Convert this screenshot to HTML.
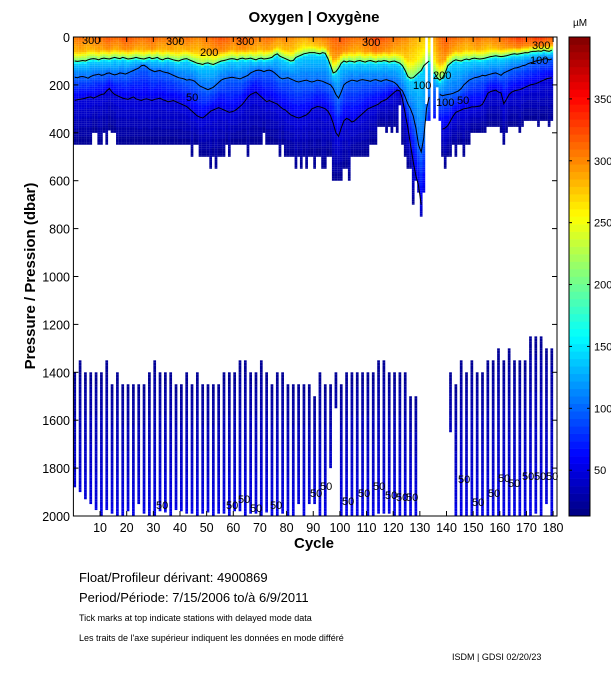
<!DOCTYPE html>
<html><head><meta charset="utf-8"><style>
html,body{margin:0;padding:0;background:#fff;width:611px;height:675px;overflow:hidden}
svg{display:block;font-family:"Liberation Sans",Arial,sans-serif}
</style></head><body>
<svg id="chart" width="611" height="675" viewBox="0 0 611 675" xmlns="http://www.w3.org/2000/svg">
<rect x="0" y="0" width="611" height="675" fill="#fff"/>
<text x="314" y="22" text-anchor="middle" font-size="15" font-weight="bold">Oxygen | Oxygène</text>
<g id="heat"></g>
<g id="deep"></g>
<g id="contours"></g>
<g id="labels" font-size="11" fill="#000">
<text x="82" y="44">300</text>
<text x="166" y="45">300</text>
<text x="236" y="45">300</text>
<text x="200" y="56">200</text>
<text x="186" y="101">50</text>
<text x="362" y="46">300</text>
<text x="413" y="89">100</text>
<text x="433" y="79">200</text>
<text x="436" y="106">100</text>
<text x="457" y="104">50</text>
<text x="532" y="49">300</text>
<text x="530" y="64">100</text>
<text x="156" y="509">50</text>
<text x="226" y="509">50</text>
<text x="238" y="503">50</text>
<text x="250" y="512">50</text>
<text x="270" y="509">50</text>
<text x="310" y="497">50</text>
<text x="320" y="490">50</text>
<text x="342" y="505">50</text>
<text x="358" y="497">50</text>
<text x="373" y="490">50</text>
<text x="385" y="499">50</text>
<text x="396" y="501">50</text>
<text x="406" y="501">50</text>
<text x="458" y="483">50</text>
<text x="472" y="506">50</text>
<text x="488" y="497">50</text>
<text x="498" y="482">50</text>
<text x="508" y="487">50</text>
<text x="522" y="480">50</text>
<text x="534" y="480">50</text>
<text x="546" y="480">50</text>
</g>
<rect x="73.4" y="37" width="483.6" height="479" fill="none" stroke="#000" stroke-width="1"/>
<g id="axes" font-size="12.5"></g>
<text transform="translate(35,276) rotate(-90)" text-anchor="middle" font-size="15" font-weight="bold">Pressure / Pression (dbar)</text>
<text x="314" y="548" text-anchor="middle" font-size="15" font-weight="bold">Cycle</text>
<g id="cbar"></g>
<text x="580" y="26" text-anchor="middle" font-size="10">µM</text>
<text x="79" y="582" font-size="13">Float/Profileur dérivant:  4900869</text>
<text x="79" y="602" font-size="13">Period/Période:  7/15/2006  to/à  6/9/2011</text>
<text x="79" y="621" font-size="9">Tick marks at top indicate stations with delayed mode data</text>
<text x="79" y="641" font-size="9">Les traits de l'axe supérieur indiquent les données en mode différé</text>
<text x="452" y="660" font-size="9">ISDM | GDSI  02/20/23</text>
</svg>
<script>
// ---- data (cycle 1..180) ----
const shallowBottom = [
450,450,450,450,450,450,450,400,400,450,
450,400,450,390,400,400,450,450,450,450,
450,450,450,450,450,450,450,450,450,450,
450,450,450,450,450,450,450,450,450,450,
450,450,450,450,500,450,450,500,500,500,
500,550,500,550,500,500,500,450,500,450,
450,450,450,450,450,500,450,450,450,450,
450,400,450,450,450,450,450,500,450,500,
500,500,500,550,500,550,500,550,500,500,
550,500,500,550,550,500,500,600,600,600,
600,550,550,600,500,500,500,500,500,500,
500,450,450,450,375,375,375,400,375,400,
375,400,285,450,500,550,550,700,600,650,
750,650,350,350,0,340,210,350,500,550,
500,500,450,500,450,450,500,450,450,400,
400,400,400,400,400,375,375,375,375,375,
400,450,400,375,375,375,375,400,375,350,
350,350,350,350,375,350,350,350,375,350];
const topGapCycles = [133];
const topGapDepth = [280];
const surfaceO2 = [
315,318,320,318,315,312,315,318,320,322,
320,325,328,330,325,322,320,325,330,332,
330,328,325,322,320,318,320,322,325,328,
325,320,318,315,318,320,322,318,315,312,
315,318,320,318,315,312,310,312,315,318,
320,322,325,328,330,332,330,328,325,322,
320,325,328,330,328,325,322,320,318,315,
318,320,322,320,318,315,312,310,312,315,
312,310,308,305,302,300,298,300,302,305,
308,310,312,315,318,320,322,325,328,330,
332,330,328,325,322,320,318,320,322,325,
328,330,335,338,335,332,330,328,325,322,
320,318,315,312,310,305,300,298,295,292,
290,288,285,280,0,300,310,320,325,330,
328,325,322,320,318,315,312,310,312,315,
318,320,318,315,312,310,312,315,318,320,
322,325,328,330,332,335,338,340,338,335,
332,335,338,340,342,340,338,335,332,330];
const depth200 = [
100,102,100,98,100,95,92,90,92,95,
90,88,90,92,88,85,88,90,85,88,
92,90,88,85,88,90,92,88,85,90,
88,85,92,95,90,88,92,95,98,100,
95,92,90,95,100,105,110,112,115,110,
108,112,115,110,105,100,98,95,92,90,
92,95,90,88,92,90,88,92,95,90,
88,92,90,88,85,75,70,80,85,90,
95,100,98,85,80,75,70,68,65,65,
65,68,70,65,68,90,120,150,145,130,
110,100,105,100,102,105,100,98,102,105,
100,98,102,105,100,102,98,100,105,102,
100,105,110,120,140,165,172,170,160,150,
140,120,110,100,0,150,170,180,170,150,
120,110,100,95,98,100,95,92,95,90,
88,90,92,90,88,85,82,80,78,80,
82,80,78,75,72,70,72,70,68,65,
66,62,60,60,58,60,55,58,60,55];
const depth100 = [
168,170,166,165,168,172,165,160,158,155,
160,158,152,150,155,158,155,150,152,155,
150,145,140,135,130,120,118,125,135,140,
145,142,140,145,148,150,155,160,165,170,
172,175,180,178,180,185,195,205,210,215,
220,215,210,200,190,180,175,172,170,168,
170,172,175,170,165,160,150,145,140,138,
140,145,140,138,142,150,160,170,175,172,
170,175,180,185,188,185,182,180,185,188,
185,180,182,185,190,195,200,215,240,255,
230,200,190,185,180,182,185,180,178,180,
182,185,180,178,182,185,180,178,182,185,
190,200,215,225,250,280,300,330,380,450,
480,420,300,250,0,220,230,240,245,242,
240,238,235,230,225,215,200,190,180,175,
170,168,165,160,162,158,155,152,150,155,
160,150,145,140,135,130,128,125,120,118,
112,108,105,100,98,95,92,90,95,92];
const depth50 = [
265,262,260,258,255,252,250,255,250,245,
240,238,225,215,230,240,245,250,255,258,
260,255,250,258,262,265,260,258,262,265,
260,258,255,262,265,270,268,265,270,275,
280,285,290,300,310,320,330,335,338,330,
320,310,305,300,295,300,305,310,315,312,
308,300,290,280,265,250,240,235,230,240,
250,260,270,265,270,275,280,290,300,305,
315,325,330,335,338,335,330,325,315,300,
295,290,292,295,300,310,330,360,400,415,
380,350,340,345,355,350,340,330,320,310,
300,295,290,285,280,270,265,260,250,240,
230,222,225,260,320,380,450,520,580,620,
700,650,500,400,0,380,385,388,385,380,
370,350,330,315,310,305,300,298,295,292,
292,290,288,280,260,235,228,225,222,230,
234,279,260,240,230,225,222,220,215,210,
205,200,198,195,190,185,180,175,172,170];
// deep profiles
const deepCycles = [1,3,5,7,9,11,13,15,17,19,21,23,25,27,29,31,33,35,37,39,41,43,45,47,49,51,53,55,57,59,61,63,65,67,69,71,73,75,77,79,81,83,85,87,89,91,93,95,97,99,101,103,105,107,109,111,113,115,117,119,121,123,125,127,129,142,144,146,148,150,152,154,156,158,160,162,164,166,168,170,172,174,176,178,180];
const deepTop = [1400,1350,1400,1400,1400,1400,1350,1450,1400,1450,1450,1450,1450,1450,1400,1350,1400,1400,1400,1450,1450,1400,1450,1400,1450,1450,1450,1450,1400,1400,1400,1350,1350,1400,1400,1350,1400,1450,1400,1400,1450,1450,1450,1450,1450,1500,1400,1450,1450,1400,1450,1400,1400,1400,1400,1400,1400,1350,1350,1400,1400,1400,1400,1500,1500,1400,1450,1350,1400,1350,1400,1400,1350,1350,1300,1350,1300,1350,1350,1350,1250,1250,1250,1300,1300];
const deepBottom = [1880,1900,1930,1950,1975,2000,1975,1990,2000,2000,1980,2000,1950,1990,2000,2000,1980,1985,2000,1975,1980,1990,1990,2000,1990,1985,2000,1990,1990,2000,1980,1980,2000,1990,1990,2000,1985,2000,2000,1990,2000,2000,1950,2000,1950,1950,2000,2000,1800,1550,2000,2000,2000,2000,2000,2000,2000,1990,1990,1990,2000,2000,2000,2000,2000,1650,2000,2000,2000,2000,2000,2000,2000,2000,2000,2000,2000,2000,2000,2000,2000,1990,2000,1950,2000];
const deepTopO2 = 22, deepBottomO2 = 52, bottomO2 = 20;
const xTicks = [10,20,30,40,50,60,70,80,90,100,110,120,130,140,150,160,170,180];
const yTicks = [0,200,400,600,800,1000,1200,1400,1600,1800,2000];
const cbTicks = [50,100,150,200,250,300,350];

// ---- scales ----
const NS = 'http://www.w3.org/2000/svg';
const X0 = 73.4, PX = 2.665, Y0 = 37, PY = 479 / 2000;
const CMIN = 13, CMAX = 400;
function xOf(c) { return X0 + PX * c; }
function yOf(d) { return Y0 + d * PY; }
function jet(v) {
  let t = (v - CMIN) / (CMAX - CMIN);
  t = Math.max(0, Math.min(1, t));
  t = (Math.floor(t * 63.999) + 0.5) / 64;
  const f = x => Math.round(255 * Math.max(0, Math.min(1, x)));
  return 'rgb(' + f(1.5 - Math.abs(4 * t - 3)) + ',' + f(1.5 - Math.abs(4 * t - 2)) + ',' + f(1.5 - Math.abs(4 * t - 1)) + ')';
}
function interp(anchors, d) {
  if (d <= anchors[0][0]) return anchors[0][1];
  for (let i = 1; i < anchors.length; i++) {
    if (d <= anchors[i][0]) {
      const a = anchors[i - 1], b = anchors[i];
      return a[1] + (b[1] - a[1]) * (d - a[0]) / (b[0] - a[0]);
    }
  }
  return anchors[anchors.length - 1][1];
}
function mk(tag, attrs, parent) {
  const e = document.createElementNS(NS, tag);
  for (const k in attrs) e.setAttribute(k, attrs[k]);
  parent.appendChild(e);
  return e;
}

// ---- heatmap ----
const heat = document.getElementById('heat');
const BIN = 8;
for (let i = 0; i < shallowBottom.length; i++) {
  const c = i + 1, bot = shallowBottom[i];
  if (!bot) continue;
  const g = mk('g', {}, heat);
  
  
  const d2 = depth200[i], d1 = Math.max(depth100[i], d2 + 25), d5 = Math.max(depth50[i], d1 + 10);
  const anchors = [[0, surfaceO2[i] - 8], [0.6 * d2, surfaceO2[i] - 35], [d2, 200], [d2 + 12, 140], [d1, 100], [d5, 50], [Math.max(bot, d5 + 100), bottomO2]];
  const gi = topGapCycles.indexOf(c);
  const start = gi >= 0 ? topGapDepth[gi] : 0;
  const x1 = xOf(c - 1), w = PX + 0.05;
  for (let d = start; d < bot; d += BIN) {
    const dd = Math.min(BIN, bot - d);
    const r = mk('rect', { x: x1.toFixed(2), y: yOf(d).toFixed(2), width: w.toFixed(2), height: (dd * PY + 0.05).toFixed(2), fill: jet(interp(anchors, d + dd / 2)) }, g);
    
    
  }
}
// ---- deep profiles ----
const deep = document.getElementById('deep');
for (let j = 0; j < deepCycles.length; j++) {
  const c = deepCycles[j], t = deepTop[j], b = deepBottom[j];
  const g = mk('g', {}, deep);
  
  
  for (let d = t; d < b; d += 10) {
    const dd = Math.min(10, b - d);
    const v = deepTopO2 + (deepBottomO2 - deepTopO2) * (d + dd / 2 - t) / (2000 - t);
    const r = mk('rect', { x: xOf(c - 1).toFixed(2), y: yOf(d).toFixed(2), width: (PX + 0.05).toFixed(2), height: (dd * PY + 0.05).toFixed(2), fill: jet(v) }, g);
    
    
  }
}
// ---- contours ----
const cont = document.getElementById('contours');
function drawContour(arr, name) {
  let pts = [];
  const flush = () => {
    if (pts.length > 1) {
      const p = mk('polyline', { points: pts.join(' '), fill: 'none', stroke: '#000', 'stroke-width': 1 }, cont);
      
      
    }
    pts = [];
  };
  for (let i = 0; i < arr.length; i++) {
    const c = i + 1;
    if (!shallowBottom[i] || !arr[i] || arr[i] >= shallowBottom[i]) { flush(); continue; }
    pts.push(xOf(c - 0.5).toFixed(1) + ',' + yOf(arr[i]).toFixed(1));
  }
  flush();
}
drawContour(depth200, 'contour-200');
drawContour(depth100, 'contour-100');
drawContour(depth50, 'contour-50');

// ---- axes ----
const axes = document.getElementById('axes');
xTicks.forEach(v => {
  const x = xOf(v);
  let l = mk('line', { x1: x, x2: x, y1: 516, y2: 511, stroke: '#000' }, axes);
  
  
  l = mk('line', { x1: x, x2: x, y1: 37, y2: 42, stroke: '#000' }, axes);
  
  
  const t = mk('text', { x: x, y: 532, 'text-anchor': 'middle' }, axes);
  t.textContent = v;
  
  
});
yTicks.forEach(v => {
  const y = yOf(v);
  let l = mk('line', { x1: 73.4, x2: 78.4, y1: y, y2: y, stroke: '#000' }, axes);
  
  
  l = mk('line', { x1: 557, x2: 552, y1: y, y2: y, stroke: '#000' }, axes);
  
  
  const t = mk('text', { x: 70, y: y + 5, 'text-anchor': 'end' }, axes);
  t.textContent = v;
  
  
});
// ---- colorbar ----
const cbar = document.getElementById('cbar');
const CB_X = 569, CB_W = 21, CB_T = 37, CB_B = 516;
function yC(v) { return CB_B - (v - CMIN) / (CMAX - CMIN) * (CB_B - CB_T); }
for (let k = 0; k < 64; k++) {
  const v0 = CMIN + (CMAX - CMIN) * k / 64, v1 = CMIN + (CMAX - CMIN) * (k + 1) / 64;
  const r = mk('rect', { x: CB_X, y: yC(v1).toFixed(2), width: CB_W, height: (yC(v0) - yC(v1) + 0.3).toFixed(2), fill: jet((v0 + v1) / 2) }, cbar);
  
  
}
const fr = mk('rect', { x: CB_X, y: CB_T, width: CB_W, height: CB_B - CB_T, fill: 'none', stroke: '#000' }, cbar);


cbTicks.forEach(v => {
  const y = yC(v);
  let l = mk('line', { x1: CB_X, x2: CB_X + 3, y1: y, y2: y, stroke: '#000' }, cbar);
  
  
  l = mk('line', { x1: CB_X + CB_W, x2: CB_X + CB_W - 3, y1: y, y2: y, stroke: '#000' }, cbar);
  
  
  const t = mk('text', { x: 594, y: y + 4, 'font-size': 11 }, cbar);
  t.textContent = v;
  
  
});
</script>
</body></html>
